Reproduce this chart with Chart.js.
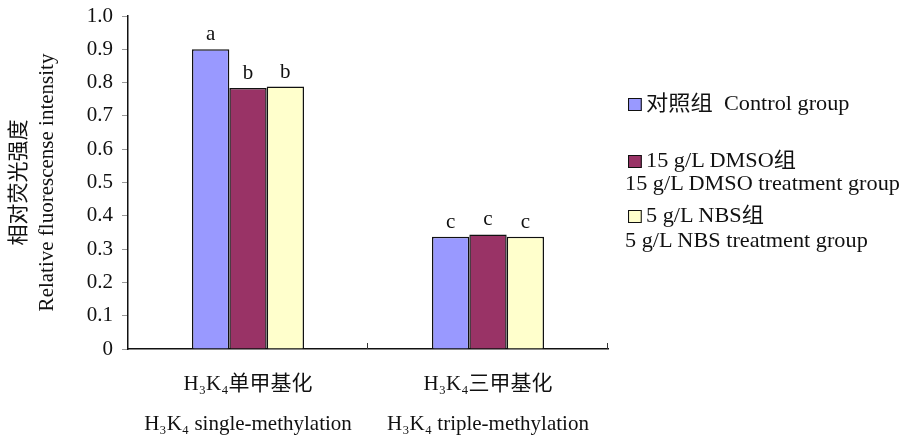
<!DOCTYPE html>
<html lang="zh">
<head>
<meta charset="UTF-8">
<title>Relative fluorescence intensity</title>
<script src="https://cdn.jsdelivr.net/npm/chart.js"></script>
<style>
  body { margin: 0; background: #fff; }
  #wrap { position: relative; width: 918px; height: 437px; }
  .leg { position: absolute; font-family: "Liberation Serif", "Noto Sans CJK SC", serif; font-size: 21px; color: #111; white-space: pre; line-height: 24px; transform: scaleX(1.06); transform-origin: left center; }
  .sq { display: inline-block; width: 11px; height: 11px; border: 1.5px solid #111; margin-right: 4px; vertical-align: -1px; }
</style>
</head>
<body>
<div id="wrap">
  <canvas id="chart"></canvas>
  <div class="leg" style="left:628px; top:91px;"><span class="sq" style="background:#9999ff"></span>对照组  Control group</div>
  <div class="leg" style="left:628px; top:148px;"><span class="sq" style="background:#993366"></span>15 g/L DMSO组</div>
  <div class="leg" style="left:625px; top:171px;">15 g/L DMSO treatment group</div>
  <div class="leg" style="left:628px; top:203px;"><span class="sq" style="background:#ffffcc"></span>5 g/L NBS组</div>
  <div class="leg" style="left:625px; top:228px;">5 g/L NBS treatment group</div>
</div>
<script>
const categories = [
  ['H₃K₄单甲基化', 'H₃K₄ single-methylation'],
  ['H₃K₄三甲基化', 'H₃K₄ triple-methylation']
];
const seriesNames = ['对照组 Control group', '15 g/L DMSO组', '5 g/L NBS组'];
const control = [0.90, 0.337];
const dmso = [0.784, 0.344];
const nbs = [0.788, 0.337];
const letters = [['a', 'c'], ['b', 'c'], ['b', 'c']];
const colors = ['#9999ff', '#993366', '#ffffcc'];

const serif = '"Liberation Serif", "Noto Sans CJK SC", serif';

// significance letters above each bar
const letterPlugin = {
  id: 'letters',
  afterDatasetsDraw(chart) {
    const ctx = chart.ctx;
    ctx.save();
    ctx.font = '21px ' + serif;
    ctx.fillStyle = '#111';
    ctx.textAlign = 'center';
    ctx.textBaseline = 'alphabetic';
    chart.data.datasets.forEach((ds, i) => {
      chart.getDatasetMeta(i).data.forEach((bar, j) => {
        ctx.fillText(letters[i][j], bar.x, bar.y - 9);
      });
    });
    // inner tick marks between categories
    const x = chart.scales.x;
    const step = (x.right - x.left) / categories.length;
    ctx.strokeStyle = '#333';
    ctx.lineWidth = 1;
    for (let k = 1; k <= categories.length; k++) {
      const px = Math.round(x.left + k * step) - 0.5;
      ctx.beginPath();
      ctx.moveTo(px, x.top);
      ctx.lineTo(px, x.top - 6);
      ctx.stroke();
    }
    ctx.restore();
  }
};

new Chart(document.getElementById('chart'), {
  type: 'bar',
  data: {
    labels: categories,
    datasets: [control, dmso, nbs].map((d, i) => ({
      label: seriesNames[i],
      data: d,
      backgroundColor: colors[i],
      borderColor: '#111',
      borderWidth: 1.5,
      categoryPercentage: 0.467,
      barPercentage: 1
    }))
  },
  options: {
    responsive: true,
    maintainAspectRatio: false,
    animation: false,
    layout: { padding: { left: 6, right: 310, top: 16, bottom: 0 } },
    plugins: { legend: { display: false }, tooltip: { enabled: false } },
    scales: {
      x: {
        grid: { display: false },
        border: { color: '#111', width: 1.5 },
        ticks: { color: '#111', padding: 8, font: { family: serif, size: 21, lineHeight: 1.9 } },
        afterFit(s) { s.height = 88; }
      },
      y: {
        min: 0,
        max: 1,
        ticks: {
          stepSize: 0.1,
          color: '#111',
          padding: 9,
          font: { family: serif, size: 21 },
          callback: v => (v === 0 ? '0' : v.toFixed(1))
        },
        grid: { drawOnChartArea: false, tickLength: 6, color: '#999' },
        border: { color: '#111', width: 1.5 },
        title: {
          display: true,
          text: ['相对荧光强度', 'Relative fluorescense intensity'],
          color: '#111',
          padding: 0,
          font: { family: serif, size: 21, lineHeight: 1.33 }
        },
        afterFit(s) { s.width = 122; s.paddingTop = 4; s.paddingBottom = 0; }
      }
    }
  },
  plugins: [letterPlugin]
});
</script>
</body>
</html>
